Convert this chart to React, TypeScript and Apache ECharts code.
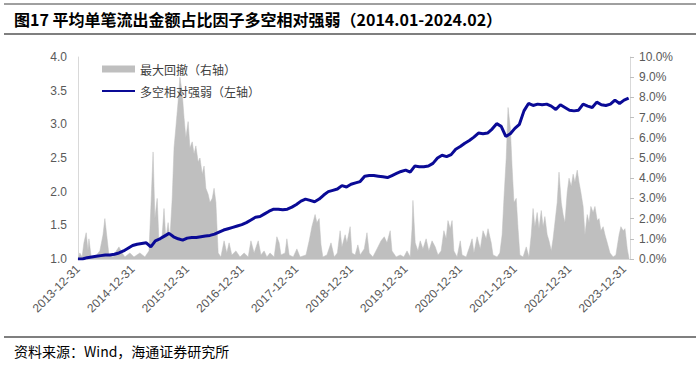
import React, { useEffect, useRef } from 'react';
import * as echarts from 'echarts';

const titleText = '图17 平均单笔流出金额占比因子多空相对强弱（2014.01-2024.02）';
const sourceText = '资料来源：Wind，海通证券研究所';
const seriesNames = ['最大回撤（右轴）', '多空相对强弱（左轴）'];
const xTickLabels = [
  '2013-12-31', '2014-12-31', '2015-12-31', '2016-12-31', '2017-12-31', '2018-12-31',
  '2019-12-31', '2020-12-31', '2021-12-31', '2022-12-31', '2023-12-31',
];

// 多空相对强弱, monthly from 2014.01 to 2024.02 (left axis)
const strengthValues = [
  1.00, 1.00, 1.02, 1.03, 1.04, 1.05, 1.06, 1.06, 1.07, 1.09, 1.12, 1.16,
  1.20, 1.22, 1.23, 1.24, 1.18, 1.27, 1.30, 1.34, 1.38, 1.33, 1.30, 1.28,
  1.31, 1.32, 1.32, 1.33, 1.34, 1.35, 1.37, 1.40, 1.43, 1.45, 1.47, 1.49,
  1.51, 1.54, 1.58, 1.62, 1.63, 1.67, 1.71, 1.74, 1.74, 1.73, 1.74, 1.77,
  1.81, 1.86, 1.89, 1.87, 1.85, 1.89, 1.95, 2.00, 2.02, 2.04, 2.09, 2.07,
  2.11, 2.13, 2.15, 2.23, 2.24, 2.24, 2.23, 2.22, 2.21, 2.24, 2.27, 2.30,
  2.32, 2.29, 2.38, 2.37, 2.37, 2.38, 2.42, 2.50, 2.54, 2.52, 2.55, 2.63,
  2.67, 2.72, 2.76, 2.81, 2.87, 2.86, 2.87, 2.93, 3.01, 2.97, 2.82, 2.86,
  2.94, 3.00, 3.20, 3.31, 3.28, 3.30, 3.29, 3.30, 3.27, 3.22, 3.29, 3.25,
  3.21, 3.20, 3.21, 3.30, 3.27, 3.25, 3.33, 3.29, 3.28, 3.30, 3.36, 3.31,
  3.36, 3.39,
];

// 最大回撤 (right axis, %), positions in months since 2014.01
const drawdownMonths = [
  0, 0.4, 0.9, 1.3, 1.8, 2.2, 2.4, 2.9, 3.7, 4.8, 5.5, 5.9, 6.4, 6.8, 7.7, 8.4, 9.0, 9.7, 10.3, 11.4,
  12.3, 13.6, 14.7, 15.6, 16.0, 16.5, 16.9, 17.4, 17.8, 18.5, 18.9, 19.3, 19.8, 20.2, 20.7, 21.1, 21.5,
  22.0, 22.4, 22.9, 23.3, 23.7, 24.2, 24.6, 25.1, 25.5, 25.9, 26.4, 26.8, 27.3, 27.7, 28.1, 28.6, 29.0,
  29.5, 29.9, 30.3, 30.8, 31.4, 32.1, 32.7, 33.2, 33.8, 34.7, 35.6, 36.5, 37.4, 38.0, 38.7, 39.6, 40.2,
  40.9, 41.5, 42.2, 43.1, 43.7, 44.2, 44.6, 45.5, 45.9, 46.4, 47.3, 48.1, 48.8, 50.1, 50.8, 51.4, 52.1,
  52.5, 53.0, 53.4, 53.8, 54.7, 55.6, 56.3, 57.0, 57.6, 58.0, 58.7, 59.1, 59.8, 60.2, 60.9, 61.5, 62.0,
  62.9, 63.5, 64.0, 64.8, 65.7, 66.6, 67.3, 67.9, 68.6, 69.0, 69.9, 70.8, 71.6, 72.3, 73.0, 73.4, 73.6,
  74.1, 74.7, 75.2, 75.8, 76.5, 77.1, 77.8, 78.5, 79.1, 79.8, 80.4, 80.9, 81.3, 81.8, 82.2, 82.6, 83.3,
  84.0, 84.4, 85.3, 86.2, 86.6, 87.0, 87.7, 88.4, 89.0, 89.7, 90.1, 90.8, 91.2, 92.1, 92.7, 93.2, 93.6,
  94.1, 94.5, 95.0, 95.4, 95.8, 96.3, 96.7, 97.1, 97.8, 98.5, 99.1, 99.6, 100.0, 100.4, 100.9, 101.3,
  101.8, 102.2, 102.6, 103.1, 103.5, 104.0, 104.4, 104.8, 105.3, 105.7, 106.2, 106.6, 107.0, 107.5,
  107.9, 108.4, 108.8, 109.2, 109.7, 110.1, 110.5, 111.0, 111.4, 111.9, 112.3, 112.7, 113.2, 113.6,
  114.1, 114.5, 114.9, 115.4, 115.8, 116.3, 116.9, 117.6, 118.2, 118.9, 119.3, 119.8, 120.2, 120.7, 121.1,
];
const drawdownValues = [
  0, 0.3, 0.1, 0.8, 1.3, 0.4, 1.0, 0.1, 0.1, 0.4, 1.2, 2.0, 1.0, 0.2, 0.1, 0.4, 0.6, 0.3, 0.1, 0.3,
  0.1, 0.3, 0.1, 0.4, 2.5, 5.3, 2.0, 3.0, 0.8, 1.2, 2.5, 1.0, 1.8, 1.0, 3.0, 5.5, 6.5,
  7.8, 9.0, 8.2, 7.0, 6.0, 6.8, 5.5, 5.8, 5.2, 5.6, 4.8, 5.0, 4.2, 4.6, 3.5, 3.2, 2.8,
  3.0, 3.5, 2.8, 0.3, 0.1, 0.9, 0.3, 0.8, 0.2, 0.4, 0.1, 0.3, 0.1, 0.9, 0.3, 0.9, 0.2,
  0.4, 0.1, 0.3, 0.1, 1.1, 0.8, 0.2, 0.3, 1.0, 0.2, 0.1, 0.5, 0.1, 0.2, 0.9, 1.6, 2.2,
  1.8, 2.0, 0.7, 0.1, 0.2, 0.8, 0.1, 0.3, 1.4, 0.6, 1.2, 0.8, 1.6, 0.3, 0.2, 0.7, 0.2,
  0.5, 1.3, 0.3, 0.1, 0.5, 0.9, 1.1, 0.8, 1.4, 0.4, 0.1, 0.2, 0.1, 0.4, 0.1, 1.5, 2.9,
  0.8, 0.4, 0.9, 0.5, 1.0, 0.4, 0.9, 0.6, 0.2, 0.4, 1.4, 1.0, 1.9, 1.5, 1.9, 0.4, 0.1,
  0.9, 0.2, 0.1, 0.7, 1.0, 0.3, 1.1, 0.5, 1.4, 1.0, 1.5, 0.8, 0.2, 0.1, 0.3, 1.2, 3.0,
  5.0, 7.5, 6.5, 4.5, 2.8, 3.0, 1.5, 0.2, 0.1, 0.6, 0.1, 1.2, 2.5, 1.6, 2.3, 1.5,
  2.4, 1.6, 2.1, 1.2, 0.9, 0.4, 1.0, 1.8, 2.8, 4.3, 2.8, 2.2, 1.8, 3.3,
  4.0, 3.6, 4.2, 3.8, 4.4, 3.8, 3.3, 2.6, 1.2, 2.2, 1.8, 2.6, 2.3, 2.6,
  1.9, 2.0, 1.4, 1.6, 1.2, 0.8, 0.3, 0.1, 0.2, 1.2, 1.6, 1.4, 1.5, 0.5, 0,
];

const FONT_CJK = '"Noto Sans CJK SC", "Noto Sans", sans-serif';
const FONT_NUM = '"Liberation Sans", Arial, sans-serif';

export default function App() {
  const ref = useRef<HTMLDivElement>(null);

  useEffect(() => {
    if (!ref.current) return;
    const chart = echarts.init(ref.current, null, { renderer: 'svg' });
    chart.setOption({
      animation: false,
      backgroundColor: '#ffffff',
      grid: { left: 78, right: 70, top: 57, bottom: 107 },
      legend: {
        orient: 'vertical',
        left: 96,
        top: 58,
        itemWidth: 33,
        itemHeight: 7,
        itemGap: 10,
        textStyle: { fontSize: 12, color: '#404040', fontFamily: FONT_CJK },
        data: [
          { name: seriesNames[0], icon: 'rect' },
          { name: seriesNames[1], itemStyle: { opacity: 0 } },
        ],
      },
      xAxis: {
        type: 'value',
        min: 0,
        max: 121.3,
        interval: 12,
        axisLine: { show: true, onZero: false, lineStyle: { color: '#d9d9d9', width: 1 } },
        axisTick: { show: false },
        splitLine: { show: false },
        axisLabel: {
          rotate: 45,
          fontSize: 12,
          color: '#595959',
          fontFamily: FONT_NUM,
          margin: 8,
          showMaxLabel: false,
          formatter: (v: number) => {
            const i = Math.round(v / 12);
            return Math.abs(v - i * 12) < 1e-6 && i < xTickLabels.length ? xTickLabels[i] : '';
          },
        },
      },
      yAxis: [
        {
          type: 'value',
          min: 1,
          max: 4,
          interval: 0.5,
          axisLine: { show: true, lineStyle: { color: '#d9d9d9' } },
          axisTick: { show: false },
          splitLine: { show: false },
          axisLabel: {
            fontSize: 12,
            color: '#595959',
            fontFamily: FONT_NUM,
            margin: 11,
            formatter: (v: number) => v.toFixed(1),
          },
        },
        {
          type: 'value',
          min: 0,
          max: 10,
          interval: 1,
          position: 'right',
          axisLine: { show: true, lineStyle: { color: '#d9d9d9' } },
          axisTick: { show: true, length: 4, lineStyle: { color: '#bfbfbf' } },
          splitLine: { show: false },
          axisLabel: {
            fontSize: 12,
            color: '#595959',
            fontFamily: FONT_NUM,
            margin: 9,
            formatter: (v: number) => v.toFixed(1) + '%',
          },
        },
      ],
      series: [
        {
          name: seriesNames[0],
          type: 'line',
          yAxisIndex: 1,
          symbol: 'none',
          color: '#bfbfbf',
          lineStyle: { width: 0.5, color: '#bfbfbf' },
          areaStyle: { color: '#bfbfbf', opacity: 1 },
          z: 1,
          data: drawdownMonths.map((m, i) => [m, drawdownValues[i]]),
        },
        {
          name: seriesNames[1],
          type: 'line',
          yAxisIndex: 0,
          symbol: 'none',
          color: '#0a0a96',
          lineStyle: { width: 3, color: '#0a0a96' },
          z: 3,
          data: strengthValues.map((v, i) => [i, v]),
        },
      ],
      graphic: [
        { type: 'line', shape: { x1: 4, y1: 4, x2: 696, y2: 4 }, style: { stroke: '#404040', lineWidth: 1 } },
        {
          type: 'text',
          left: 14,
          top: 11,
          style: { text: titleText, fontSize: 16, fontWeight: 'bold', fill: '#000000', fontFamily: FONT_CJK },
        },
        { type: 'line', shape: { x1: 4, y1: 34, x2: 696, y2: 34 }, style: { stroke: '#7f7f7f', lineWidth: 2 } },
        { type: 'line', shape: { x1: 4, y1: 337, x2: 696, y2: 337 }, style: { stroke: '#7f7f7f', lineWidth: 2 } },
        {
          type: 'text',
          left: 14,
          top: 344,
          style: { text: sourceText, fontSize: 14, fill: '#000000', fontFamily: FONT_CJK },
        },
      ],
    });
    return () => chart.dispose();
  }, []);

  return (
    <div
      ref={ref}
      style={{ position: 'fixed', left: 0, top: 0, width: 700, height: 366, background: '#ffffff' }}
    />
  );
}
